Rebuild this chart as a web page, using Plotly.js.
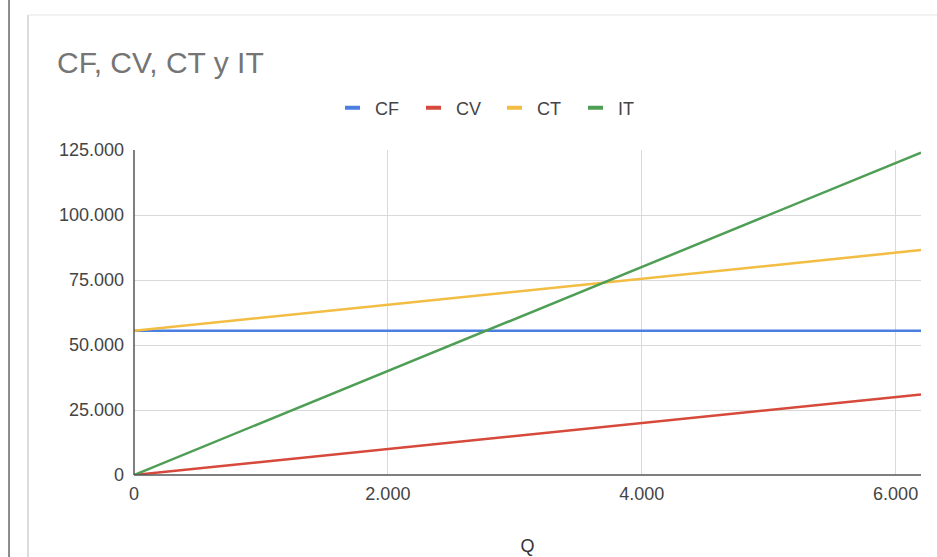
<!DOCTYPE html>
<html>
<head>
<meta charset="utf-8">
<script src="https://cdn.plot.ly/plotly-3.0.1.min.js"></script>
<style>html,body{margin:0;padding:0;background:#fff;}#chart{width:937px;height:557px;}</style>
</head>
<body>
<div id="chart"></div>
<script>
const Q = [0, 2000, 4000, 6200];
const CF = [55500, 55500, 55500, 55500];
const CV = [0, 10000, 20000, 31000];
const CT = [55500, 65500, 75500, 86500];
const IT = [0, 40000, 80000, 124000];
const seriesNames = ['CF', 'CV', 'CT', 'IT'];
const seriesColors = ['#4a7fe0', '#d6493b', '#f2bd42', '#4e9e55'];
const seriesData = [CF, CV, CT, IT];
const yTicks = [0, 25000, 50000, 75000, 100000, 125000];
const xTicks = [0, 2000, 4000, 6000];

const traces = seriesNames.map((n, i) => ({
  x: Q, y: seriesData[i], name: n, type: 'scatter', mode: 'lines',
  line: {color: seriesColors[i], width: 2.5}
}));

const layout = {
  width: 937, height: 557,
  margin: {l: 134, r: 16, t: 150, b: 82, autoexpand: false},
  paper_bgcolor: '#fff', plot_bgcolor: '#fff',
  separators: ',.',
  font: {family: 'Liberation Sans, Arial, sans-serif', color: '#444', size: 18},
  title: {text: 'CF, CV, CT y IT', x: 57/937, xref: 'container', xanchor: 'left',
          y: 1 - 62/557, yref: 'container', yanchor: 'middle',
          font: {size: 30, color: '#757575'}},
  showlegend: true,
  legend: {orientation: 'h', x: (335-134)/787, xref: 'paper', xanchor: 'left',
           y: (475-108)/325, yanchor: 'middle',
           font: {size: 18, color: '#444'}, itemwidth: 30, entrywidth: 36, traceorder: 'normal'},
  xaxis: {range: [0, 6200], tickvals: xTicks, tickformat: ',d', showgrid: true, gridcolor: '#d9d9d9',
          zeroline: false, showline: false, ticks: '', tickfont: {size: 18, color: '#444'},
          ticklabelstandoff: 6,
          title: {text: 'Q', font: {size: 18, color: '#333'}, standoff: 36}},
  yaxis: {range: [0, 125000], tickvals: yTicks, tickformat: ',d', showgrid: true, gridcolor: '#d9d9d9',
          zeroline: false, showline: false, ticks: '', tickfont: {size: 18, color: '#444'},
          ticklabelstandoff: 9},
  shapes: [
    {type: 'line', xref: 'paper', yref: 'paper', x0: 0, x1: 0, y0: 0, y1: 1, line: {color: '#555', width: 1.5}},
    {type: 'line', xref: 'paper', yref: 'paper', x0: 0, x1: 1, y0: 0, y1: 0, line: {color: '#555', width: 1.5}},
    {type: 'line', xref: 'paper', yref: 'paper', x0: -0.1347, x1: -0.1347, y0: -0.3, y1: 1.4154, line: {color: '#d0d0d0', width: 1.5}},
    {type: 'line', xref: 'paper', yref: 'paper', x0: -0.1347, x1: 1.03, y0: 1.4154, y1: 1.4154, line: {color: '#e6e6e6', width: 1}},
    {type: 'line', xref: 'paper', yref: 'paper', x0: -0.1588, x1: -0.1588, y0: -0.3, y1: 1.6, line: {color: '#666', width: 1.5}}
  ]
};

Plotly.newPlot('chart', traces, layout, {displayModeBar: false, staticPlot: true}).then(gd => {
  // shorten legend line swatches to match the reference's short dashes
  document.querySelectorAll('.legend .legendlines path').forEach(p => {
    p.setAttribute('d', 'M10,0h15');
    p.style.strokeWidth = '4px';
  });
});
</script>
</body>
</html>
